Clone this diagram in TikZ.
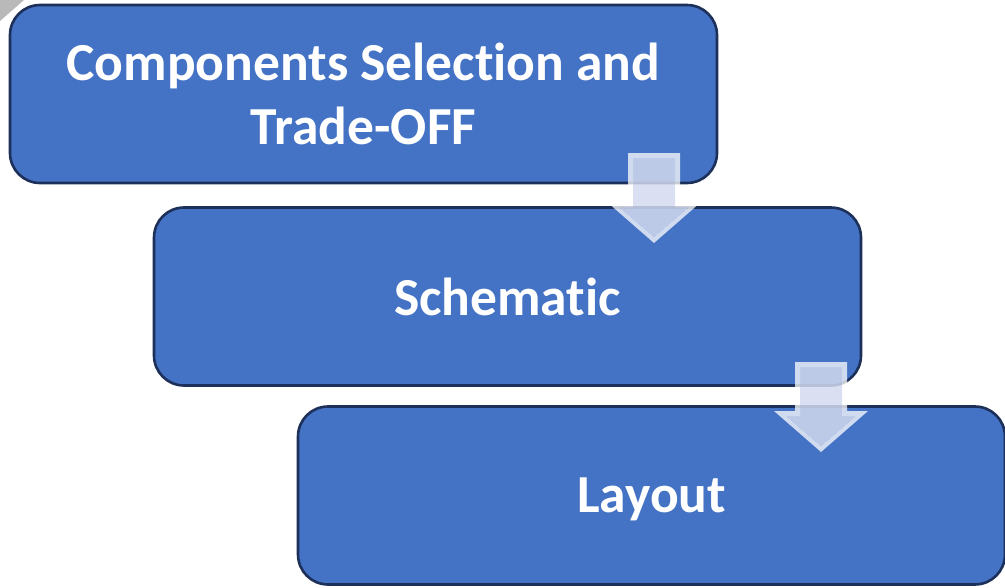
\documentclass[tikz,border=0pt]{standalone}
\usepackage{fontspec}
\setmainfont[Ligatures=NoCommon]{Carlito}
\begin{document}
\begin{tikzpicture}[x=1pt,y=-1pt,
  stagebox/.style={draw=boxedge, fill=boxfill, line width=2.6pt,
    rounded corners=30pt, inner sep=0pt, text=white,
    font=\fontsize{53.5}{64}\selectfont\bfseries, align=center,
    minimum width=707pt, minimum height=178pt},
  bevel/.style={fill=white, fill opacity=0.75, even odd rule},
  face/.style={fill=arrowface, fill opacity=0.84},
]
\definecolor{boxfill}{RGB}{68,114,196}
\definecolor{boxedge}{RGB}{28,48,90}
\definecolor{arrowface}{RGB}{212,219,240}

% canvas and the grey page corner
\useasboundingbox (0,0) rectangle (1005,587);
\fill[white] (0,0) rectangle (1005,587);
\fill[gray!55] (0,0) -- (24,0) -- (0,21) -- cycle;

% the three stages
\node[stagebox] (sel) at (363.5,94) {Components Selection and\\Trade-OFF};
\node[stagebox] (sch) at (507.5,296.5) {Schematic};
\node[stagebox, text depth=0pt] (lay) at (651.5,495.5) {Layout};

% beveled block arrow, anchored at the middle of its shaft top
\tikzset{pics/downarrow/.style={code={
  \fill[bevel] (-26,0) -- (26,0) -- (26,49) -- (47,49) -- (0,90) -- (-47,49) -- (-26,49) -- cycle
               (-21,5) -- (21,5) -- (21,54) -- (35,54) -- (0,84) -- (-35,54) -- (-21,54) -- cycle;
  \fill[face] (-21,5) -- (21,5) -- (21,54) -- (35,54) -- (0,84) -- (-35,54) -- (-21,54) -- cycle;
}}}

\coordinate (a1) at (654,153);
\coordinate (a2) at (821,362);
\pic at (a1) {downarrow};
\pic at (a2) {downarrow};
\end{tikzpicture}
\end{document}
